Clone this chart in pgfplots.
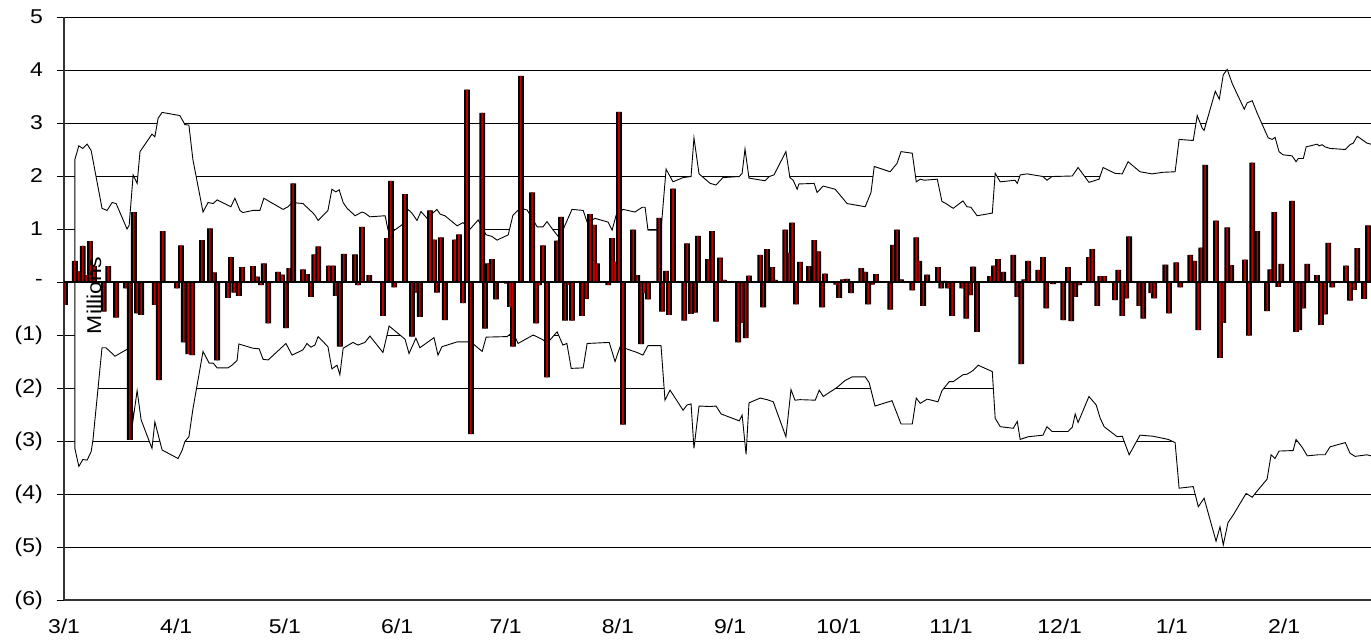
\documentclass[border=0pt]{standalone}
\usepackage{fontspec}
\setmainfont{Liberation Sans}[FakeStretch=1.15]
\usepackage{pgfplots}
\usepackage{pgfplotstable}
\pgfplotsset{compat=1.18}

\definecolor{barred}{RGB}{190,0,0}

% daily change, millions (x = days since 3/1)
\pgfplotstableread{
day val
0.3 -0.43
3.0 0.40
4.1 0.20
5.2 0.68
6.1 0.13
7.2 0.77
8.3 0.30
11.0 -0.56
12.2 0.30
14.4 -0.67
17.1 -0.12
18.2 -2.98
19.3 1.32
20.2 -0.59
21.3 -0.62
25.1 -0.43
26.2 -1.85
27.3 0.96
31.2 -0.12
32.3 0.69
33.1 -1.14
34.3 -1.36
35.4 -1.38
38.1 0.79
40.3 1.01
41.4 0.18
42.3 -1.48
45.3 -0.30
46.1 0.47
47.0 -0.20
48.3 -0.26
49.2 0.28
52.2 0.30
53.3 0.10
54.4 -0.06
55.2 0.35
56.4 -0.78
59.1 0.19
60.2 0.14
61.3 -0.87
62.2 0.26
63.3 1.86
66.0 0.24
67.1 0.15
68.2 -0.28
69.1 0.52
70.2 0.67
73.2 0.31
74.3 0.31
75.1 -0.26
76.2 -1.22
77.3 0.53
80.4 0.52
81.2 -0.06
82.3 1.04
84.3 0.13
88.1 -0.64
89.2 0.83
90.3 1.91
91.2 -0.10
94.2 1.66
96.1 -1.03
97.2 -0.20
98.3 -0.66
101.1 1.35
102.2 0.80
103.0 -0.20
104.1 0.84
105.2 -0.72
108.0 0.80
109.1 0.90
110.2 -0.40
111.3 3.63
112.4 -2.87
115.5 3.19
116.3 -0.88
117.1 0.35
118.2 0.43
119.3 -0.33
122.4 -0.03
123.2 -0.47
124.0 -1.22
126.2 3.89
129.3 1.69
130.4 -0.78
131.2 -0.06
132.3 0.69
133.4 -1.80
136.2 0.78
137.3 1.23
138.4 -0.73
139.2 -0.05
140.3 -0.73
143.1 -0.64
144.2 -0.32
145.3 1.28
146.4 1.08
147.2 0.35
150.3 -0.06
151.4 0.83
152.2 0.38
153.3 3.21
154.4 -2.69
157.2 0.99
158.3 0.13
159.4 -1.17
160.2 -0.21
161.3 -0.33
164.4 1.21
165.2 -0.56
166.3 0.21
167.1 -0.62
168.2 1.76
171.3 -0.73
172.1 0.73
173.2 -0.60
174.3 -0.58
175.1 0.87
177.9 0.43
179.0 0.96
180.1 -0.75
181.2 0.46
182.3 0.04
186.2 -1.14
187.2 -0.77
188.3 -1.06
189.2 0.12
192.3 0.51
193.1 -0.48
194.2 0.62
195.6 0.28
196.4 0.04
199.2 0.99
200.3 0.55
201.1 1.12
202.2 -0.42
203.3 0.38
205.8 0.30
207.2 0.79
208.3 0.58
209.4 -0.48
210.2 0.16
213.3 -0.05
214.1 -0.30
215.2 0.05
216.3 0.06
217.4 -0.21
220.2 0.26
221.3 0.19
222.1 -0.42
223.2 -0.05
224.3 0.15
228.2 -0.52
229.0 0.70
230.1 0.99
231.2 0.05
234.3 -0.16
235.4 0.84
236.2 0.40
237.3 -0.45
238.4 0.14
241.4 0.28
242.3 -0.12
243.1 0.02
244.2 -0.12
245.3 -0.64
248.1 -0.12
249.2 -0.69
250.3 -0.25
251.1 0.29
252.2 -0.94
255.8 0.11
256.9 0.31
258.0 0.43
259.4 0.19
262.2 0.51
263.3 -0.28
264.4 -1.55
265.2 0.05
266.3 0.40
269.1 0.23
270.4 0.47
271.3 -0.50
273.2 -0.04
276.0 -0.72
277.3 0.28
278.2 -0.74
279.3 -0.28
280.4 -0.06
283.1 0.47
284.0 0.62
285.4 -0.45
286.2 0.11
287.3 0.11
290.3 -0.34
291.2 0.23
292.3 -0.64
293.4 -0.31
294.2 0.86
297.0 -0.45
298.1 -0.69
300.3 -0.21
301.1 -0.31
304.2 0.33
305.2 -0.59
307.2 0.37
308.3 -0.10
311.1 0.51
312.2 0.40
313.3 -0.91
314.1 0.65
315.2 2.21
318.2 1.16
319.3 -1.43
320.2 -0.77
321.3 1.03
322.4 0.32
326.2 0.42
327.3 -1.01
328.2 2.25
329.6 0.96
332.3 -0.55
333.2 0.24
334.3 1.32
335.4 -0.09
336.2 0.34
339.2 1.53
340.3 -0.94
341.2 -0.91
342.3 -0.50
343.4 0.34
346.1 0.13
347.2 -0.81
348.3 -0.61
349.2 0.74
350.3 -0.10
354.1 0.31
355.2 -0.35
356.3 -0.15
357.2 0.64
359.1 -0.32
360.2 1.07
}\daychange

% upper band
\pgfplotstableread{
day val
3.0 0
3.0 2.31
4.1 2.57
5.2 2.52
6.4 2.60
7.5 2.48
8.0 2.30
10.5 1.39
11.9 1.35
13.3 1.50
14.4 1.48
17.4 1.00
18.0 1.07
19.1 2.02
20.2 1.86
21.0 2.46
24.3 2.79
25.1 2.74
26.0 3.09
27.1 3.20
32.0 3.14
33.4 2.97
34.5 2.96
35.6 2.31
38.4 1.32
39.8 1.50
41.2 1.48
42.3 1.55
46.1 1.42
47.2 1.58
48.6 1.35
49.4 1.31
52.2 1.35
54.1 1.35
55.2 1.58
60.5 1.37
61.9 1.42
63.0 1.50
66.0 1.48
68.8 1.30
69.3 1.26
70.2 1.16
72.9 1.35
74.0 1.75
75.1 1.70
76.0 1.74
77.1 1.50
78.2 1.39
80.4 1.25
82.3 1.32
83.1 1.30
84.5 1.23
88.7 1.25
89.5 0.98
90.9 0.96
93.4 1.08
95.0 1.37
96.1 1.30
97.5 1.16
98.6 1.33
100.3 1.20
103.0 1.37
103.9 1.28
105.2 1.25
108.6 1.06
110.2 1.12
112.2 1.00
114.4 1.17
116.6 0.89
118.2 0.86
119.6 0.79
122.7 0.89
124.0 1.26
126.0 1.39
127.9 1.36
130.7 1.04
132.3 1.04
133.4 1.14
135.1 0.98
136.5 0.86
137.8 0.98
140.3 1.37
143.4 1.35
144.5 1.13
146.7 1.20
150.3 1.13
151.4 0.98
152.5 1.26
154.4 1.37
157.7 1.32
159.7 1.41
160.5 1.41
161.3 0.98
164.9 0.98
166.3 2.13
168.2 1.89
171.0 1.97
173.2 1.99
174.0 2.72
175.4 2.04
178.5 1.86
180.1 1.83
182.0 1.97
186.5 1.99
187.3 2.05
188.1 2.51
189.2 1.96
193.6 1.91
194.8 1.99
196.1 2.02
199.4 2.46
200.5 1.97
201.4 1.92
202.5 1.75
203.0 1.85
207.2 1.86
208.0 1.69
209.7 1.81
213.0 1.75
216.3 1.48
221.3 1.42
222.9 1.69
223.8 2.18
228.2 2.08
230.1 2.24
231.2 2.46
234.3 2.43
235.4 1.89
236.5 1.94
237.6 1.92
241.2 1.94
242.5 1.52
243.6 1.48
245.6 1.39
248.3 1.53
249.4 1.42
250.5 1.41
252.2 1.25
256.4 1.30
257.2 2.05
258.6 1.89
262.7 1.92
263.3 1.86
264.1 2.02
266.0 2.04
270.4 1.99
271.5 1.92
272.9 1.99
278.5 2.00
280.1 2.16
283.1 1.88
285.9 1.94
287.0 2.16
290.3 2.05
292.3 2.04
293.9 2.27
297.2 2.08
300.5 2.04
303.6 2.07
306.9 2.08
308.0 2.69
311.9 2.67
313.0 3.14
314.4 2.90
314.9 2.86
318.0 3.60
319.1 3.45
320.2 3.91
321.3 4.01
322.7 3.74
326.0 3.26
326.8 3.38
328.2 3.42
329.6 3.18
332.6 2.72
333.7 2.69
334.5 2.73
335.6 2.46
336.7 2.40
339.2 2.38
340.3 2.27
340.9 2.33
342.3 2.33
343.1 2.55
346.1 2.60
346.7 2.57
347.5 2.59
348.3 2.55
349.7 2.52
353.9 2.50
355.2 2.59
356.1 2.62
357.2 2.75
359.9 2.62
361.0 2.60
362.0 2.60
362.0 0
}\upband

% lower band
\pgfplotstableread{
day val
3.0 0
3.0 -3.14
4.1 -3.48
5.2 -3.35
6.4 -3.36
7.5 -3.20
8.0 -2.98
10.5 -1.24
11.6 -1.24
14.1 -1.40
17.4 -1.27
17.7 -1.28
19.1 -2.59
20.2 -2.05
21.3 -2.60
24.3 -3.14
25.1 -2.64
27.1 -3.17
31.5 -3.33
32.6 -3.18
33.4 -3.01
34.5 -2.92
35.6 -2.40
38.4 -1.31
40.1 -1.53
41.2 -1.53
42.3 -1.62
45.3 -1.62
46.4 -1.57
47.8 -1.48
48.3 -1.17
52.2 -1.25
53.9 -1.26
55.0 -1.46
56.4 -1.47
61.3 -1.16
63.0 -1.38
66.0 -1.28
67.1 -1.16
68.2 -1.23
69.3 -1.19
70.2 -1.03
72.9 -1.22
74.0 -1.64
75.4 -1.57
76.2 -1.75
77.1 -1.25
79.8 -1.14
81.2 -1.19
83.1 -1.14
84.5 -1.02
88.1 -1.33
89.8 -0.83
94.2 -1.08
95.3 -1.35
97.2 -1.06
98.3 -1.24
102.2 -1.05
103.3 -1.38
104.4 -1.22
108.6 -1.13
111.6 -1.13
112.7 -1.15
115.5 -1.31
116.6 -1.04
122.4 -1.03
124.0 -0.94
125.4 -1.16
129.6 -1.00
132.3 -1.09
133.4 -1.16
136.2 -0.94
137.8 -1.19
138.9 -1.16
140.1 -1.63
143.4 -1.62
144.5 -1.16
150.6 -1.14
152.2 -1.50
153.6 -1.22
158.3 -1.33
159.9 -1.38
161.3 -1.20
164.9 -1.20
166.0 -2.23
167.4 -2.04
171.0 -2.42
172.1 -2.32
173.2 -2.30
174.0 -3.14
175.4 -2.34
178.5 -2.35
180.1 -2.34
181.5 -2.49
186.5 -2.62
187.3 -2.51
188.4 -3.25
189.2 -2.28
192.3 -2.19
194.2 -2.22
195.9 -2.26
199.4 -2.92
200.8 -2.03
201.9 -2.23
203.3 -2.22
207.5 -2.23
208.6 -2.04
209.7 -2.16
213.5 -1.99
215.7 -1.86
217.7 -1.79
221.3 -1.79
222.4 -1.90
224.0 -2.34
228.7 -2.24
231.2 -2.68
234.3 -2.68
235.4 -2.19
236.5 -2.29
238.4 -2.21
241.4 -2.26
242.5 -2.05
244.5 -1.88
245.6 -1.88
248.3 -1.75
249.4 -1.74
251.1 -1.67
252.5 -1.57
256.4 -1.69
257.2 -2.57
258.6 -2.73
262.2 -2.76
263.3 -2.63
264.1 -2.97
266.3 -2.92
270.4 -2.89
271.5 -2.73
272.9 -2.82
277.3 -2.82
278.5 -2.74
279.3 -2.49
280.1 -2.65
283.1 -2.16
285.1 -2.32
286.2 -2.57
287.3 -2.73
290.9 -2.92
292.3 -2.91
294.2 -3.26
297.2 -2.89
300.8 -2.91
305.0 -2.97
306.9 -3.03
308.0 -3.89
311.9 -3.86
313.3 -4.24
314.9 -4.08
318.2 -4.89
319.3 -4.62
320.2 -4.96
321.5 -4.54
322.9 -4.40
326.5 -3.99
328.2 -4.06
329.6 -3.94
332.3 -3.72
333.4 -3.26
334.5 -3.33
335.6 -3.19
339.5 -3.18
340.3 -2.97
342.0 -3.12
343.4 -3.28
346.4 -3.26
348.3 -3.26
349.7 -3.11
353.9 -3.03
355.2 -3.23
356.6 -3.29
359.9 -3.26
361.0 -3.28
362.0 -3.28
362.0 0
}\lowband

\begin{document}
\begin{tikzpicture}
\begin{axis}[
    scale only axis,
    width=1307pt, height=583pt,
    xmin=0, xmax=361,
    ymin=-6, ymax=5,
    axis x line*=bottom,
    axis y line*=left,
    axis line style={black!80, line width=1.2pt},
    ymajorgrids,
    grid style={black, line width=0.9pt},
    ytick={-6,-5,-4,-3,-2,-1,0,1,2,3,4,5},
    yticklabels={(6),(5),(4),(3),(2),(1),-,1,2,3,4,5},
    xtick={0,31,61,92,122,153,184,214,245,275,306,337},
    xticklabels={3/1,4/1,5/1,6/1,7/1,8/1,9/1,10/1,11/1,12/1,1/1,2/1},
    tick align=outside,
    major tick length=7pt,
    ytick style={black, line width=0.9pt},
    xtick style={draw=none},
    ticklabel style={font=\fontsize{20}{23}\selectfont},
    yticklabel style={anchor=east, inner sep=0pt, xshift=-14pt},
    xticklabel style={anchor=north, inner sep=0pt, yshift=-12pt},
    ]
\addplot[fill=white, draw=black, line width=0.9pt] table[x=day, y=val] {\upband};
\addplot[fill=white, draw=black, line width=0.9pt] table[x=day, y=val] {\lowband};
% black body of each bar, then its red core
\addplot[ybar, bar width=5.8pt, bar shift=0pt, fill=black, draw=none]
    table[x=day, y=val] {\daychange};
\addplot[ybar, bar width=1.6pt, bar shift=0pt, fill=barred, draw=none]
    table[x=day, y=val] {\daychange};
\draw[black, line width=1.2pt] (axis cs:0,0) -- (axis cs:361,0);
\node[rotate=90, font=\fontsize{20}{23}\selectfont] at (axis cs:8.3,-0.26) {Millions};
\end{axis}
\pgfresetboundingbox
\path[use as bounding box] (-64pt,-40pt) rectangle (1307pt,600pt);
\end{tikzpicture}
\end{document}
